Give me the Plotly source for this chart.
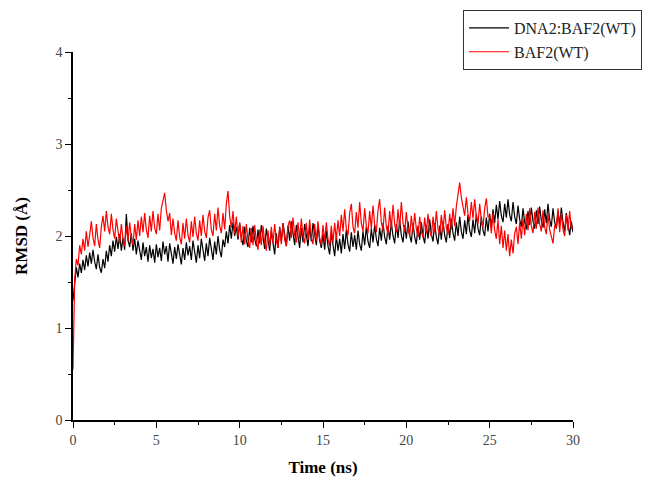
import plotly.graph_objects as go

# Sampling: one frame every 0.1 ns from 0 to 30 ns
time_ns = [round(i * 0.1, 1) for i in range(301)]

# RMSD (Å) of the DNA2:BAF2(WT) complex
rmsd_complex = [
    1.30, 1.52, 1.66, 1.55, 1.70, 1.60, 1.74, 1.63, 1.79, 1.67,
    1.82, 1.70, 1.85, 1.72, 1.64, 1.80, 1.66, 1.60, 1.75, 1.65,
    1.84, 1.72, 1.90, 1.78, 1.95, 1.83, 1.99, 1.86, 2.02, 1.84,
    1.98, 1.85, 2.24, 1.96, 1.88, 2.03, 1.84, 1.97, 1.80, 1.95,
    1.82, 1.74, 1.93, 1.78, 1.88, 1.72, 1.90, 1.76, 1.86, 1.71,
    1.91, 1.77, 1.87, 1.73, 1.94, 1.80, 1.89, 1.72, 1.92, 1.78,
    1.70, 1.88, 1.75, 1.91, 1.77, 1.69, 1.87, 1.74, 1.93, 1.79,
    1.89, 1.74, 1.95, 1.80, 1.71, 1.90, 1.76, 1.97, 1.82, 1.73,
    1.92, 1.78, 1.98, 1.83, 1.74, 1.94, 1.80, 2.00, 1.85, 1.77,
    1.96, 1.88, 2.05, 1.92, 2.12, 1.97, 2.15, 2.00, 2.10, 1.96,
    2.14, 1.98, 1.90, 2.10, 1.95, 1.88, 2.09, 1.93, 2.11, 1.97,
    1.89, 2.07, 1.92, 2.12, 1.96, 1.86, 2.08, 1.93, 1.84, 2.05,
    1.90, 1.80, 2.03, 1.87, 2.10, 1.94, 2.14, 1.98, 1.89, 2.11,
    1.95, 2.16, 2.00, 1.90, 2.12, 1.97, 1.87, 2.09, 1.93, 2.13,
    1.98, 1.89, 2.10, 1.94, 2.14, 1.99, 1.90, 2.11, 1.95, 1.87,
    2.02, 1.85, 2.06, 1.89, 1.80, 2.03, 1.87, 1.78, 2.00, 1.84,
    1.97, 1.81, 2.02, 1.86, 2.07, 1.91, 1.83, 2.04, 1.88, 2.01,
    1.85, 2.06, 1.91, 1.84, 2.05, 1.90, 2.10, 1.94, 1.87, 2.08,
    1.93, 2.12, 1.97, 1.89, 2.09, 1.95, 2.14, 1.99, 1.91, 2.11,
    1.96, 2.15, 2.00, 1.92, 2.13, 1.98, 2.17, 2.01, 1.93, 2.12,
    1.97, 2.16, 2.01, 1.93, 2.14, 1.99, 1.91, 2.11, 1.96, 2.15,
    2.00, 1.92, 2.12, 1.97, 2.18, 2.02, 1.94, 2.14, 1.99, 1.91,
    2.11, 1.96, 2.16, 2.01, 1.93, 2.13, 1.98, 2.19, 2.03, 1.95,
    2.15, 2.00, 2.21, 2.05, 1.97, 2.17, 2.02, 2.23, 2.06, 1.99,
    2.18, 2.03, 2.24, 2.08, 2.01, 2.21, 2.06, 2.00, 2.20, 2.05,
    2.24, 2.09, 2.29, 2.14, 2.34, 2.18, 2.38, 2.22, 2.15, 2.35,
    2.20, 2.40, 2.23, 2.16, 2.37, 2.21, 2.13, 2.33, 2.18, 2.10,
    2.30, 2.15, 2.07, 2.27, 2.12, 2.31, 2.16, 2.08, 2.28, 2.13,
    2.32, 2.17, 2.09, 2.29, 2.14, 2.35, 2.18, 2.10, 2.30, 2.15,
    2.08, 2.27, 2.12, 2.31, 2.15, 2.05, 2.25, 2.10, 2.01, 2.16,
    2.04,
]

# RMSD (Å) of free BAF2(WT)
rmsd_free = [
    0.55, 1.52, 1.75, 1.68, 1.90, 1.80, 1.97, 1.84, 2.05, 1.88,
    2.01, 2.16, 1.98, 1.89, 2.13, 1.96, 1.87, 2.10, 2.22, 2.05,
    2.27, 2.10, 2.02, 2.24, 2.07, 1.97, 2.19, 2.02, 1.92, 2.13,
    1.97, 1.89, 2.11, 1.94, 2.15, 1.98, 1.90, 2.13, 1.96, 2.17,
    2.00, 2.21, 2.04, 2.25, 2.07, 1.98, 2.22, 2.05, 2.27, 2.09,
    2.02, 2.24, 2.06, 2.30, 2.37, 2.47, 2.28, 2.16, 2.25, 2.01,
    2.19, 2.03, 1.95, 2.17, 1.99, 1.91, 2.14, 1.97, 2.19, 2.01,
    1.93, 2.16, 1.99, 2.21, 2.03, 1.95, 2.17, 2.00, 2.23, 2.05,
    1.98, 2.20, 2.28, 2.07, 2.00, 2.24, 2.06, 2.31, 2.11, 2.03,
    2.25, 2.07, 2.35, 2.49, 2.22, 2.09, 2.27, 2.03, 2.21, 1.99,
    2.15, 1.93, 2.11, 1.91, 2.13, 1.95, 1.87, 2.09, 1.90, 2.12,
    1.94, 1.85, 2.07, 1.90, 2.11, 1.93, 1.84, 2.06, 1.88, 2.10,
    1.92, 2.13, 1.95, 1.87, 2.09, 1.91, 2.14, 1.96, 1.89, 2.11,
    2.17, 1.98, 2.20, 2.01, 1.93, 2.15, 1.97, 2.19, 2.00, 1.92,
    2.14, 1.96, 2.18, 1.99, 1.91, 2.13, 1.95, 2.16, 1.98, 1.90,
    2.12, 1.94, 2.15, 1.97, 1.89, 2.11, 1.93, 2.14, 1.96, 2.17,
    2.00, 2.23, 2.05, 2.29, 2.08, 2.01, 2.25, 2.35, 2.10, 2.03,
    2.26, 2.09, 2.37, 2.14, 2.05, 2.30, 2.11, 2.03, 2.27, 2.08,
    2.33, 2.12, 2.04, 2.28, 2.40, 2.15, 2.06, 2.31, 2.10, 2.02,
    2.27, 2.08, 2.34, 2.13, 2.04, 2.29, 2.09, 2.37, 2.14, 2.05,
    2.26, 2.07, 2.00, 2.22, 2.04, 2.25, 2.08, 1.99, 2.21, 2.05,
    1.98, 2.20, 2.03, 2.24, 2.06, 1.99, 2.21, 2.04, 2.27, 2.08,
    2.01, 2.23, 2.05, 2.28, 2.09, 2.02, 2.24, 2.07, 2.30, 2.11,
    2.32, 2.44, 2.58, 2.42, 2.30, 2.22, 2.42, 2.24, 2.16, 2.37,
    2.19, 2.40, 2.22, 2.13, 2.35, 2.17, 2.09, 2.30, 2.41, 2.21,
    2.22, 2.03, 2.25, 2.06, 1.97, 2.18, 1.91, 2.11, 1.87, 2.06,
    1.84, 2.02, 1.78, 1.96, 1.81, 2.03, 2.10, 1.91, 2.15, 1.97,
    2.19, 2.01, 2.24, 2.06, 2.30, 2.11, 2.03, 2.26, 2.08, 2.31,
    2.13, 2.05, 2.28, 2.10, 2.02, 2.24, 2.07, 2.00, 1.92, 2.11,
    2.10, 2.30, 2.04, 2.25, 2.07, 2.00, 2.23, 2.06, 2.27, 2.08,
    2.10,
]

series_names = ["DNA2:BAF2(WT)", "BAF2(WT)"]
series_colors = ["#000000", "#ff0000"]

fig = go.Figure()
for name, ys, color in zip(series_names, [rmsd_complex, rmsd_free], series_colors):
    fig.add_trace(go.Scatter(
        x=time_ns, y=ys, mode="lines", name=name,
        line=dict(color=color, width=1.2),
    ))

serif = "Liberation Serif"

axis_common = dict(
    showgrid=False, zeroline=False, showline=True, automargin=False,
    linecolor="#000000", linewidth=1.5,
    ticks="outside", ticklen=6, tickwidth=1.2, tickcolor="#000000",
    tickfont=dict(family=serif, size=14, color="#444444"),
)

fig.update_xaxes(
    range=[0, 30], tick0=0, dtick=5,
    minor=dict(dtick=2.5, ticks="outside", ticklen=3, tickcolor="#000000", tickwidth=1),
    title=dict(text="<b>Time (ns)</b>", font=dict(family=serif, size=17, color="#000000"), standoff=16),
    **axis_common,
)
fig.update_yaxes(
    range=[0, 4], tick0=0, dtick=1,
    minor=dict(dtick=0.5, ticks="outside", ticklen=3, tickcolor="#000000", tickwidth=1),
    title=dict(text="<b>RMSD (Å)</b>", font=dict(family=serif, size=17, color="#000000"), standoff=24),
    **axis_common,
)

fig.update_layout(
    width=651, height=477,
    margin=dict(l=73, r=78, t=52, b=57, autoexpand=False),
    paper_bgcolor="#ffffff", plot_bgcolor="#ffffff",
    showlegend=True,
    legend=dict(
        x=0.78, y=1.114, xanchor="left", yanchor="top",
        bgcolor="#ffffff", bordercolor="#333333", borderwidth=1,
        font=dict(family=serif, size=16, color="#222222"),
        tracegroupgap=0, itemwidth=40,
    ),
)

fig.write_html("out.html")
